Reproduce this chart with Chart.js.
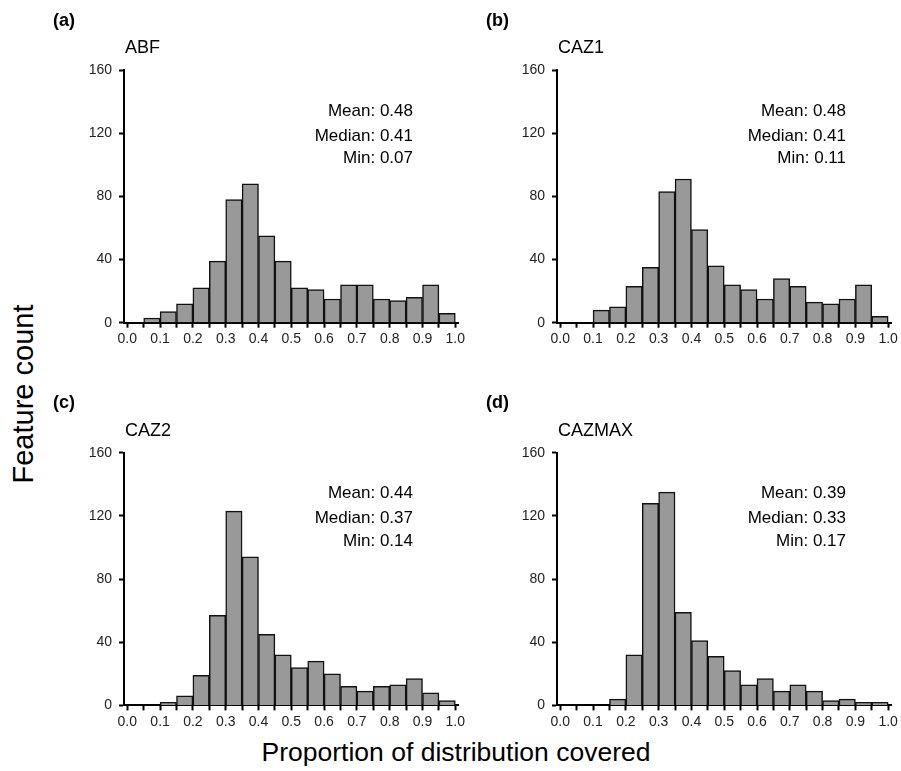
<!DOCTYPE html>
<html>
<head>
<meta charset="utf-8">
<script src="https://cdn.jsdelivr.net/npm/chart.js@4.4.1/dist/chart.umd.min.js"></script>
<style>
  body { margin: 0; background: #fff; width: 901px; height: 771px; position: relative; overflow: hidden;
         font-family: 'Liberation Sans', Arial, sans-serif; }
  canvas { position: absolute; }
  .ytitle { position: absolute; left: 23px; top: 394px; font-size: 29px; white-space: nowrap;
            transform: translate(-50%, -50%) rotate(-90deg); }
  .xtitle { position: absolute; left: 456px; top: 752px; font-size: 26.5px; white-space: nowrap;
            transform: translate(-50%, -50%); }
</style>
</head>
<body>
<canvas id="pa"></canvas>
<canvas id="pb"></canvas>
<canvas id="pc"></canvas>
<canvas id="pd"></canvas>
<div class="ytitle">Feature count</div>
<div class="xtitle">Proportion of distribution covered</div>
<script>
// bins of width 0.05, left edges
const binStarts = [0, 0.05, 0.1, 0.15, 0.2, 0.25, 0.3, 0.35, 0.4, 0.45,
                   0.5, 0.55, 0.6, 0.65, 0.7, 0.75, 0.8, 0.85, 0.9, 0.95]
const binWidth = 0.05

const abf    = [0, 3, 7, 12, 22, 39, 78, 88, 55, 39, 22, 21, 15, 24, 24, 15, 14, 16, 24, 6]
const caz1   = [0, 0, 8, 10, 23, 35, 83, 91, 59, 36, 24, 21, 15, 28, 23, 13, 12, 15, 24, 4]
const caz2   = [0, 0, 2, 6, 19, 57, 123, 94, 45, 32, 24, 28, 20, 12, 9, 12, 13, 17, 8, 3]
const cazmax = [0, 0, 0, 4, 32, 128, 135, 59, 41, 31, 22, 13, 17, 9, 13, 9, 3, 4, 2, 2]

const panelLetters = ['(a)', '(b)', '(c)', '(d)']
const panelNames = ['ABF', 'CAZ1', 'CAZ2', 'CAZMAX']
const means   = [0.48, 0.48, 0.44, 0.39]
const medians = [0.41, 0.41, 0.37, 0.33]
const mins    = [0.07, 0.11, 0.14, 0.17]

const xTicks = [0, 0.05, 0.1, 0.15, 0.2, 0.25, 0.3, 0.35, 0.4, 0.45, 0.5,
                0.55, 0.6, 0.65, 0.7, 0.75, 0.8, 0.85, 0.9, 0.95, 1.0]
const yTicks = [0, 40, 80, 120, 160]

Chart.defaults.font.family = "'Liberation Sans', Arial, sans-serif"

// canvas rectangle + plot area (page pixels)
const layouts = [
  { id: 'pa', left: 40,  top: 0,   w: 430, h: 360, L: 124, T: 70 },
  { id: 'pb', left: 473, top: 0,   w: 428, h: 360, L: 557, T: 70 },
  { id: 'pc', left: 40,  top: 382, w: 430, h: 350, L: 124, T: 452.7 },
  { id: 'pd', left: 473, top: 382, w: 428, h: 350, L: 557, T: 452.7 }
]
const PLOT_W = 334.6
const PLOT_H = 252.7

// letters, titles and summary stats
const panelText = {
  id: 'panelText',
  afterDraw(chart, args, opts) {
    const { ctx, chartArea: a } = chart
    ctx.save()
    ctx.fillStyle = '#000'
    ctx.textBaseline = 'alphabetic'
    ctx.textAlign = 'left'
    ctx.font = "bold 18px 'Liberation Sans', Arial"
    ctx.fillText(opts.letter, a.left - 71, a.top - 44.5)
    ctx.font = "18px 'Liberation Sans', Arial"
    ctx.fillText(opts.name, a.left + 1, a.top - 16.7)
    ctx.font = "17px 'Liberation Sans', Arial"
    ctx.textAlign = 'right'
    const offs = [45.5, 70.5, 93.3]
    opts.stats.forEach((s, i) => ctx.fillText(s, a.left + 289, a.top + offs[i]))
    ctx.restore()
  }
}

function makeChart(idx, counts) {
  const lay = layouts[idx]
  const cv = document.getElementById(lay.id)
  cv.width = lay.w
  cv.height = lay.h
  cv.style.left = lay.left + 'px'
  cv.style.top = lay.top + 'px'

  const padRight = (lay.left + lay.w) - (lay.L + PLOT_W)
  const yWidth = lay.L - lay.left
  const xHeight = (lay.top + lay.h) - (lay.T + PLOT_H)

  return new Chart(cv, {
    type: 'bar',
    data: {
      datasets: [{
        data: binStarts.map((b, i) => ({ x: b + binWidth / 2, y: counts[i] })),
        backgroundColor: '#999999',
        borderColor: '#111',
        borderWidth: 1.5,
        barPercentage: 1,
        categoryPercentage: 1
      }]
    },
    options: {
      responsive: false,
      animation: false,
      layout: { padding: { top: lay.T - lay.top, right: padRight, left: 0, bottom: 0 } },
      plugins: {
        legend: { display: false },
        tooltip: { enabled: false },
        panelText: {
          letter: panelLetters[idx],
          name: panelNames[idx],
          stats: ['Mean: ' + means[idx].toFixed(2),
                  'Median: ' + medians[idx].toFixed(2),
                  'Min: ' + mins[idx].toFixed(2)]
        }
      },
      scales: {
        x: {
          type: 'linear',
          min: -0.01,
          max: 1.01,
          offset: false,
          afterFit: (s) => { s.height = xHeight },
          afterBuildTicks: (s) => { s.ticks = xTicks.map(v => ({ value: v })) },
          border: { display: true, color: '#000', width: 2 },
          grid: { display: true, drawOnChartArea: false, drawTicks: true, tickLength: 5,
                  tickWidth: 2, tickColor: '#000', offset: false },
          ticks: {
            autoSkip: false, maxRotation: 0, padding: 3, color: '#222',
            font: { size: 14 },
            callback: (v, i) => (i % 2 === 0 ? (i / 20).toFixed(1) : '')
          }
        },
        y: {
          min: 0,
          max: 160,
          afterFit: (s) => { s.width = yWidth },
          afterBuildTicks: (s) => { s.ticks = yTicks.map(v => ({ value: v })) },
          border: { display: true, color: '#000', width: 2 },
          grid: { display: true, drawOnChartArea: false, drawTicks: true, tickLength: 5,
                  tickWidth: 2, tickColor: '#000' },
          ticks: { padding: 7, color: '#222', font: { size: 14 } }
        }
      }
    },
    plugins: [panelText]
  })
}

makeChart(0, abf)
makeChart(1, caz1)
makeChart(2, caz2)
makeChart(3, cazmax)
</script>
</body>
</html>
